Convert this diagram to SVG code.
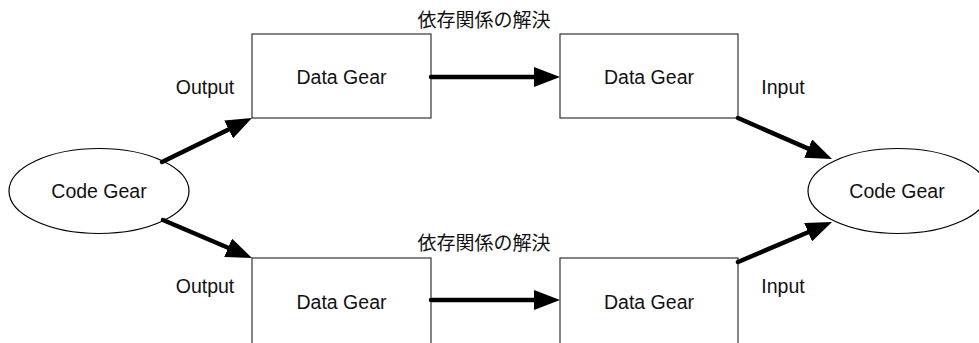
<svg xmlns="http://www.w3.org/2000/svg" width="979" height="343" viewBox="0 0 979 343">
<defs>
<style>
.box{fill:#fff;stroke:#333;stroke-width:1.2}
.ell{fill:#fff;stroke:#000;stroke-width:1.2}
.t{font-family:"Liberation Sans",Arial,sans-serif;font-size:19.5px;fill:#111;text-anchor:middle}
.j{font-family:"Noto Sans CJK JP","Liberation Sans",sans-serif;font-size:19px;fill:#111;text-anchor:middle}
.c{stroke:#000;stroke-width:4.5;stroke-linecap:round;fill:none;marker-end:url(#ah)}
</style>
<marker id="ah" markerUnits="userSpaceOnUse" viewBox="0 -10 26 20" markerWidth="26" markerHeight="20" refX="0" refY="0" orient="auto">
<path d="M0,-10 L26,0 L0,10 z" fill="#000"/>
</marker>
</defs>
<rect width="979" height="343" fill="#fff"/>
<g id="code-gear-left"><ellipse class="ell" cx="99" cy="191" rx="90" ry="42.5"/><text class="t" x="99" y="198">Code Gear</text></g>
<g id="code-gear-right"><ellipse class="ell" cx="898" cy="191" rx="90" ry="42.5"/><text class="t" x="897" y="198">Code Gear</text></g>
<g id="data-gear-top-1"><rect class="box" x="252" y="34" width="179" height="84"/><text class="t" x="341.5" y="84">Data Gear</text></g>
<g id="data-gear-top-2"><rect class="box" x="560" y="34" width="178" height="84"/><text class="t" x="649" y="84">Data Gear</text></g>
<g id="data-gear-bottom-1"><rect class="box" x="252" y="258" width="179" height="95"/><text class="t" x="341.5" y="309">Data Gear</text></g>
<g id="data-gear-bottom-2"><rect class="box" x="560" y="258" width="178" height="95"/><text class="t" x="649" y="309">Data Gear</text></g>
<g id="connectors">
<line class="c" x1="162" y1="162" x2="228.6" y2="129.4"/>
<line class="c" x1="163" y1="220" x2="228.1" y2="247.8"/>
<line class="c" x1="431" y1="77" x2="534" y2="77"/>
<line class="c" x1="431" y1="300" x2="534" y2="300"/>
<line class="c" x1="738" y1="118" x2="808.2" y2="148.6"/>
<line class="c" x1="738" y1="262" x2="808.1" y2="232.2"/>
</g>
<g id="labels">
<text class="t" x="205" y="94">Output</text>
<text class="t" x="205" y="293">Output</text>
<text class="t" x="783" y="94">Input</text>
<text class="t" x="783" y="293">Input</text>
<text class="j" x="484" y="27">依存関係の解決</text>
<text class="j" x="484" y="250">依存関係の解決</text>
</g>
</svg>
